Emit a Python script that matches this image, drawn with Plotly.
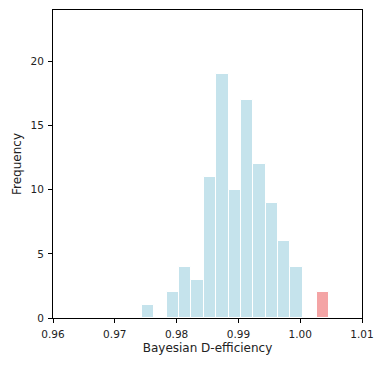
import plotly.graph_objects as go

# histogram bins (centers) and counts
bin_width = 0.002
blue_centers = [0.9754, 0.9794, 0.9814, 0.9834, 0.9854, 0.9874, 0.9894,
                0.9914, 0.9934, 0.9954, 0.9974, 0.9994]
blue_counts = [1, 2, 4, 3, 11, 19, 10, 17, 12, 9, 6, 4]
red_centers = [1.0037]
red_counts = [2]

x_ticks = [0.96, 0.97, 0.98, 0.99, 1.00, 1.01]
x_labels = ["0.96", "0.97", "0.98", "0.99", "1.00", "1.01"]

fig = go.Figure()
fig.add_bar(x=blue_centers, y=blue_counts, width=bin_width,
            marker=dict(color="#c5e3ec", line=dict(color="white", width=1)))
fig.add_bar(x=red_centers, y=red_counts, width=bin_width,
            marker=dict(color="#f4a4a5", line=dict(color="white", width=1)))

axis_style = dict(showline=True, linecolor="black", linewidth=1, mirror=True,
                  ticks="outside", ticklen=4, tickcolor="black",
                  showgrid=False, zeroline=False, ticklabelstandoff=2,
                  tickfont=dict(size=10.5, color="#222"))

fig.update_layout(
    width=384, height=366,
    margin=dict(l=53, r=22, t=10, b=48),
    plot_bgcolor="white", paper_bgcolor="white",
    font=dict(family="DejaVu Sans", color="#222"),
    showlegend=False, barmode="overlay", bargap=0,
    xaxis=dict(range=[0.96, 1.01], tickvals=x_ticks, ticktext=x_labels,
               title=dict(text="Bayesian D-efficiency", font=dict(size=12), standoff=5),
               **axis_style),
    yaxis=dict(range=[0, 24], tickvals=[0, 5, 10, 15, 20],
               title=dict(text="Frequency", font=dict(size=12), standoff=6),
               **axis_style),
)

fig.write_html("out.html", config={"displayModeBar": False},
               post_script="document.body.style.margin='0';")
